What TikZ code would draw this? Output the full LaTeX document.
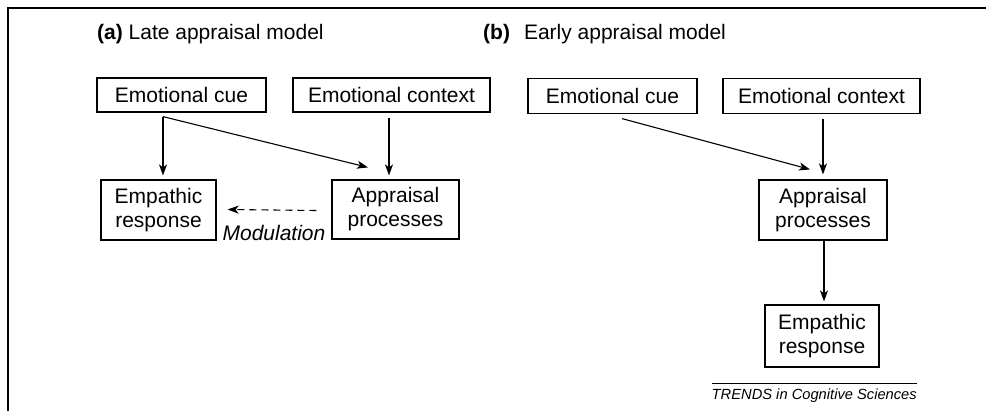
\documentclass[tikz,border=0pt]{standalone}
\usepackage{fontspec}
\setmainfont{Liberation Sans}
\usetikzlibrary{arrows.meta}
\begin{document}
\begin{tikzpicture}[x=1pt,y=-1pt,
  every node/.style={font=\fontsize{21}{24}\selectfont},
  box/.style={draw=black, line width=1.2pt, inner sep=0pt, align=center},
  arr/.style={line width=1.1pt, -{Stealth[length=11pt,width=8pt,inset=3pt]}},
  dasharr/.style={arr, dash pattern=on 7pt off 5pt}]
  \useasboundingbox (0,0) rectangle (986,410);
  % outer frame: top and left rules
  \draw[line width=2.2pt] (8,420) -- (8,8) -- (990,8);

  % titles
  \node[anchor=base west, inner sep=0pt] (titleA) at (97,39) {\textbf{(a)} Late appraisal model};
  \node[anchor=base west, inner sep=0pt] (titleB) at (483,39) {\textbf{(b)}\hspace{14pt}Early appraisal model};

  % (a) late appraisal model
  \node[box, minimum width=169pt, minimum height=34pt] (cueA) at (181.5,95) {Emotional cue};
  \node[box, minimum width=197pt, minimum height=34pt] (ctxA) at (391.5,95) {Emotional context};
  \node[box, minimum width=115pt, minimum height=60pt] (empA) at (158.5,210) {Empathic\\response};
  \node[box, minimum width=127pt, minimum height=59pt] (apA) at (395.5,209.5) {Appraisal\\processes};
  \node[inner sep=0pt, font=\fontsize{21}{24}\selectfont\itshape] (modA) at (274,233) {Modulation};

  \coordinate (cueAout) at ([xshift=-18.5pt,yshift=-4pt]cueA.south);
  \draw[arr, shorten >=4pt] (cueAout) -- (cueAout |- empA.north);
  \draw[arr] (cueAout) -- ([xshift=-27.5pt,yshift=12pt]apA.north);
  \draw[arr, shorten <=5pt, shorten >=4pt] ([xshift=-2.5pt]ctxA.south) -- ([xshift=-6.5pt]apA.north);
  \draw[dasharr] ([xshift=-15pt,yshift=-1pt]apA.west) -- ([xshift=11pt,yshift=0.5pt]empA.east);

  % (b) early appraisal model
  \node[box, minimum width=169pt, minimum height=35pt] (cueB) at (612.5,96) {Emotional cue};
  \node[box, minimum width=197pt, minimum height=35pt] (ctxB) at (821.5,96) {Emotional context};
  \node[box, minimum width=128pt, minimum height=60pt] (apB) at (823,210) {Appraisal\\processes};
  \node[box, minimum width=114pt, minimum height=62pt] (empB) at (822,336) {Empathic\\response};

  \draw[arr] ([xshift=9.5pt,yshift=-4.5pt]cueB.south) -- ([xshift=-13pt,yshift=10pt]apB.north);
  \draw[arr, shorten <=5pt, shorten >=5pt] ([xshift=1.5pt]ctxB.south) -- (apB.north);
  \draw[arr, shorten >=3pt] ([xshift=1pt]apB.south) -- ([xshift=2pt]empB.north);

  % source line
  \node[inner sep=0pt, anchor=base east, font=\fontsize{14.7}{17}\selectfont\itshape] (src) at (917,399) {TRENDS in Cognitive Sciences};
  \draw[line width=0.8pt] (src.north west |- 0,383) coordinate (srcL) -- (srcL -| src.east);
\end{tikzpicture}
\end{document}
